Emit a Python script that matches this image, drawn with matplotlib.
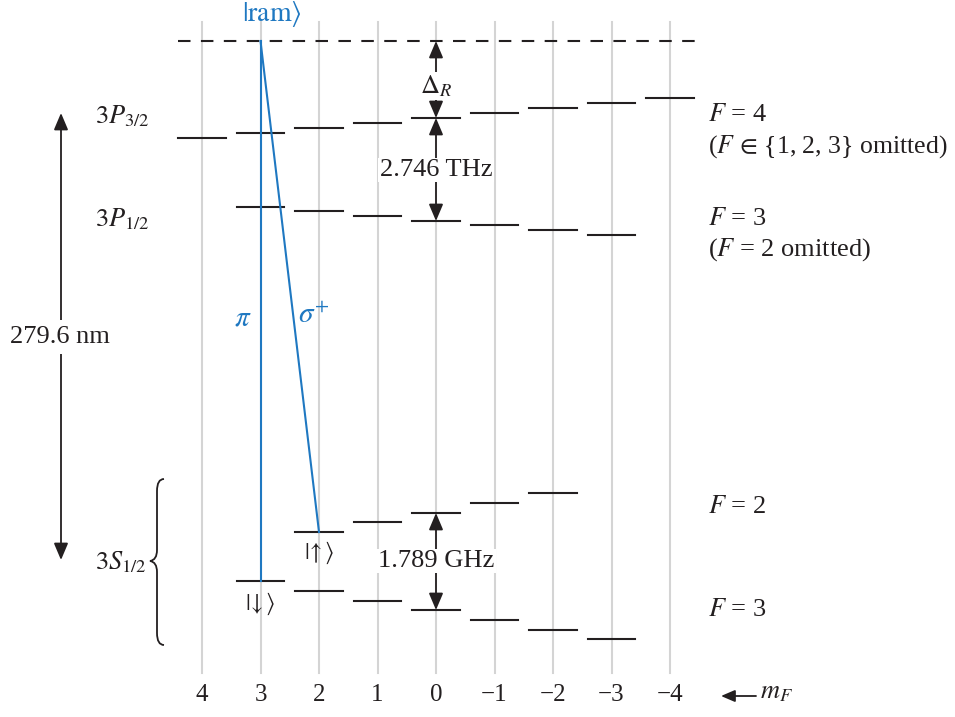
import numpy as np
import matplotlib
matplotlib.use("Agg")
import matplotlib.pyplot as plt
from matplotlib.path import Path
from matplotlib.patches import PathPatch
import matplotlib.transforms as mtransforms

plt.rcParams['font.family'] = ['Liberation Serif', 'DejaVu Serif']
plt.rcParams['mathtext.fontset'] = 'stix'

# -----------------------------
# Level data (m_F, energy in arbitrary units)
# -----------------------------
m_all = [4, 3, 2, 1, 0, -1, -2, -3, -4]
m_labels = ["4", "3", "2", "1", "0", "\u22121", "\u22122", "\u22123", "\u22124"]

m_p32 = [4, 3, 2, 1, 0, -1, -2, -3, -4]
e_p32 = [579, 584, 589, 594, 599, 604, 609, 614, 619]

m_p12 = [3, 2, 1, 0, -1, -2, -3]
e_p12 = [510, 506, 501, 496, 492, 487, 482]

m_sf2 = [2, 1, 0, -1, -2]
e_sf2 = [185, 195, 204, 214, 224]

m_sf3 = [3, 2, 1, 0, -1, -2, -3]
e_sf3 = [136, 126, 116, 107, 97, 87, 78]

e_ram = 676
m_down, m_up = 3, 2

dark = '#231f20'
blue = '#1f78c1'
grey = '#d4d4d4'
half = 0.41

fig = plt.figure(figsize=(9.55, 7.17), dpi=100)
ax = fig.add_axes([0, 0, 1, 1])
ax.set_xlim(436 / 58.5, (436 - 955) / 58.5)
ax.set_ylim(0, 717)
ax.axis('off')

# pixel transform for decorations (origin top-left)
pix = mtransforms.Affine2D().scale(1 / 955, -1 / 717).translate(0, 1) + fig.transFigure


def xp(p):
    return (436 - p) / 58.5


def yp(p):
    return 717 - p


# grid of m_F columns
for m in m_all:
    ax.plot([m, m], [yp(673), yp(22)], color=grey, lw=1.5, zorder=0)

# levels
for ms, es in [(m_p32, e_p32), (m_p12, e_p12), (m_sf2, e_sf2), (m_sf3, e_sf3)]:
    for m, e in zip(ms, es):
        ax.plot([m - half, m + half], [e, e], color=dark, lw=1.5, zorder=2)

# virtual level
ax.plot([xp(178), xp(695)], [e_ram, e_ram], color=dark, lw=1.5,
        dashes=(6, 5), zorder=2)

# laser transitions
e_down = e_sf3[m_sf3.index(m_down)]
e_up = e_sf2[m_sf2.index(m_up)]
ax.plot([m_down, m_down], [e_ram, e_down], color=blue, lw=1.5, zorder=3)
ax.plot([m_down, m_up], [e_ram, e_up], color=blue, lw=1.5, zorder=3)

ax.text(xp(272), yp(14), r'$|\mathrm{ram}\rangle$', color=blue, fontsize=20,
        ha='center', va='center')
ax.text(xp(243), yp(318), r'$\pi$', color=blue, fontsize=21, ha='center', va='center')
ax.text(xp(314), yp(316), r'$\sigma^{+}$', color=blue, fontsize=21, ha='center', va='center')
ax.text(m_up, yp(553), r'$|\!\uparrow\rangle$', color=dark, fontsize=17,
        ha='center', va='center')
ax.text(m_down, yp(604), r'$|\!\downarrow\rangle$', color=dark, fontsize=17,
        ha='center', va='center')

head = '<|-|>,head_length=0.85,head_width=0.36'


def arrow(x, y0, y1):
    ax.annotate('', xy=(x, y1), xytext=(x, y0),
                arrowprops=dict(arrowstyle=head, color=dark, lw=1.3,
                                shrinkA=0, shrinkB=0, mutation_scale=12), zorder=4)


e0_p32 = e_p32[m_p32.index(0)]
e0_p12 = e_p12[m_p12.index(0)]
e0_f2 = e_sf2[m_sf2.index(0)]
e0_f3 = e_sf3[m_sf3.index(0)]

arrow(0, e0_p32, e_ram)
arrow(0, e0_p12, e0_p32)
arrow(0, e0_f3, e0_f2)

box = dict(facecolor='white', edgecolor='none', pad=1)
ax.text(0, yp(86), r'$\Delta_R$', fontsize=19, ha='center', va='center',
        color=dark, bbox=box, zorder=5)
ax.text(0, yp(170), '2.746 THz', fontsize=19, ha='center', va='center',
        color=dark, bbox=box, zorder=5)
ax.text(0, yp(561), '1.789 GHz', fontsize=19, ha='center', va='center',
        color=dark, bbox=box, zorder=5)

# 279.6 nm arrow on the left
ax.annotate('', xy=(xp(61), yp(113)), xytext=(xp(61), yp(560)),
            arrowprops=dict(arrowstyle=head, color=dark, lw=1.3,
                            shrinkA=0, shrinkB=0, mutation_scale=12))
ax.text(xp(60), yp(337), '279.6 nm', fontsize=19, ha='center', va='center',
        color=dark, bbox=dict(facecolor='white', edgecolor='none', pad=4))

# term labels
ax.text(xp(95), yp(116), r'$3P_{\mathrm{3/2}}$', fontsize=19, ha='left', va='center', color=dark)
ax.text(xp(95), yp(219), r'$3P_{\mathrm{1/2}}$', fontsize=19, ha='left', va='center', color=dark)
ax.text(xp(95), yp(562), r'$3S_{\mathrm{1/2}}$', fontsize=19, ha='left', va='center', color=dark)

# brace for 3S1/2
verts = [(164, 479), (157, 479), (157, 491), (157, 550), (157, 560), (150, 561),
         (157, 562), (157, 572), (157, 633), (157, 645), (164, 645)]
codes = [Path.MOVETO, Path.CURVE3, Path.CURVE3, Path.LINETO, Path.CURVE3, Path.CURVE3,
         Path.CURVE3, Path.CURVE3, Path.LINETO, Path.CURVE3, Path.CURVE3]
ax.add_patch(PathPatch(Path(verts, codes), transform=pix, facecolor='none',
                       edgecolor=dark, lw=1.3))

# F labels on the right
ax.text(xp(708), yp(115), r'$F$ = 4', fontsize=19, ha='left', va='center', color=dark)
ax.text(xp(708), yp(147), r'($F\,\in\!$ {1, 2, 3} omitted)', fontsize=18.5,
        ha='left', va='center', color=dark)
ax.text(xp(708), yp(219), r'$F$ = 3', fontsize=19, ha='left', va='center', color=dark)
ax.text(xp(708), yp(250), r'($F$ = 2 omitted)', fontsize=19, ha='left', va='center', color=dark)
ax.text(xp(708), yp(507), r'$F$ = 2', fontsize=19, ha='left', va='center', color=dark)
ax.text(xp(708), yp(610), r'$F$ = 3', fontsize=19, ha='left', va='center', color=dark)

# m_F tick labels
for m, lab in zip(m_all, m_labels):
    ax.text(m, yp(695), lab, fontsize=18, ha='center', va='center', color=dark)

ax.annotate('', xy=(xp(721), yp(696)), xytext=(xp(756), yp(696)),
            arrowprops=dict(arrowstyle='-|>,head_length=0.7,head_width=0.3',
                            color=dark, lw=1.3, shrinkA=0, shrinkB=0,
                            mutation_scale=12))
ax.text(xp(760), yp(693), r'$m_F$', fontsize=19, ha='left', va='center', color=dark)

fig.savefig('out.png', dpi=100)
